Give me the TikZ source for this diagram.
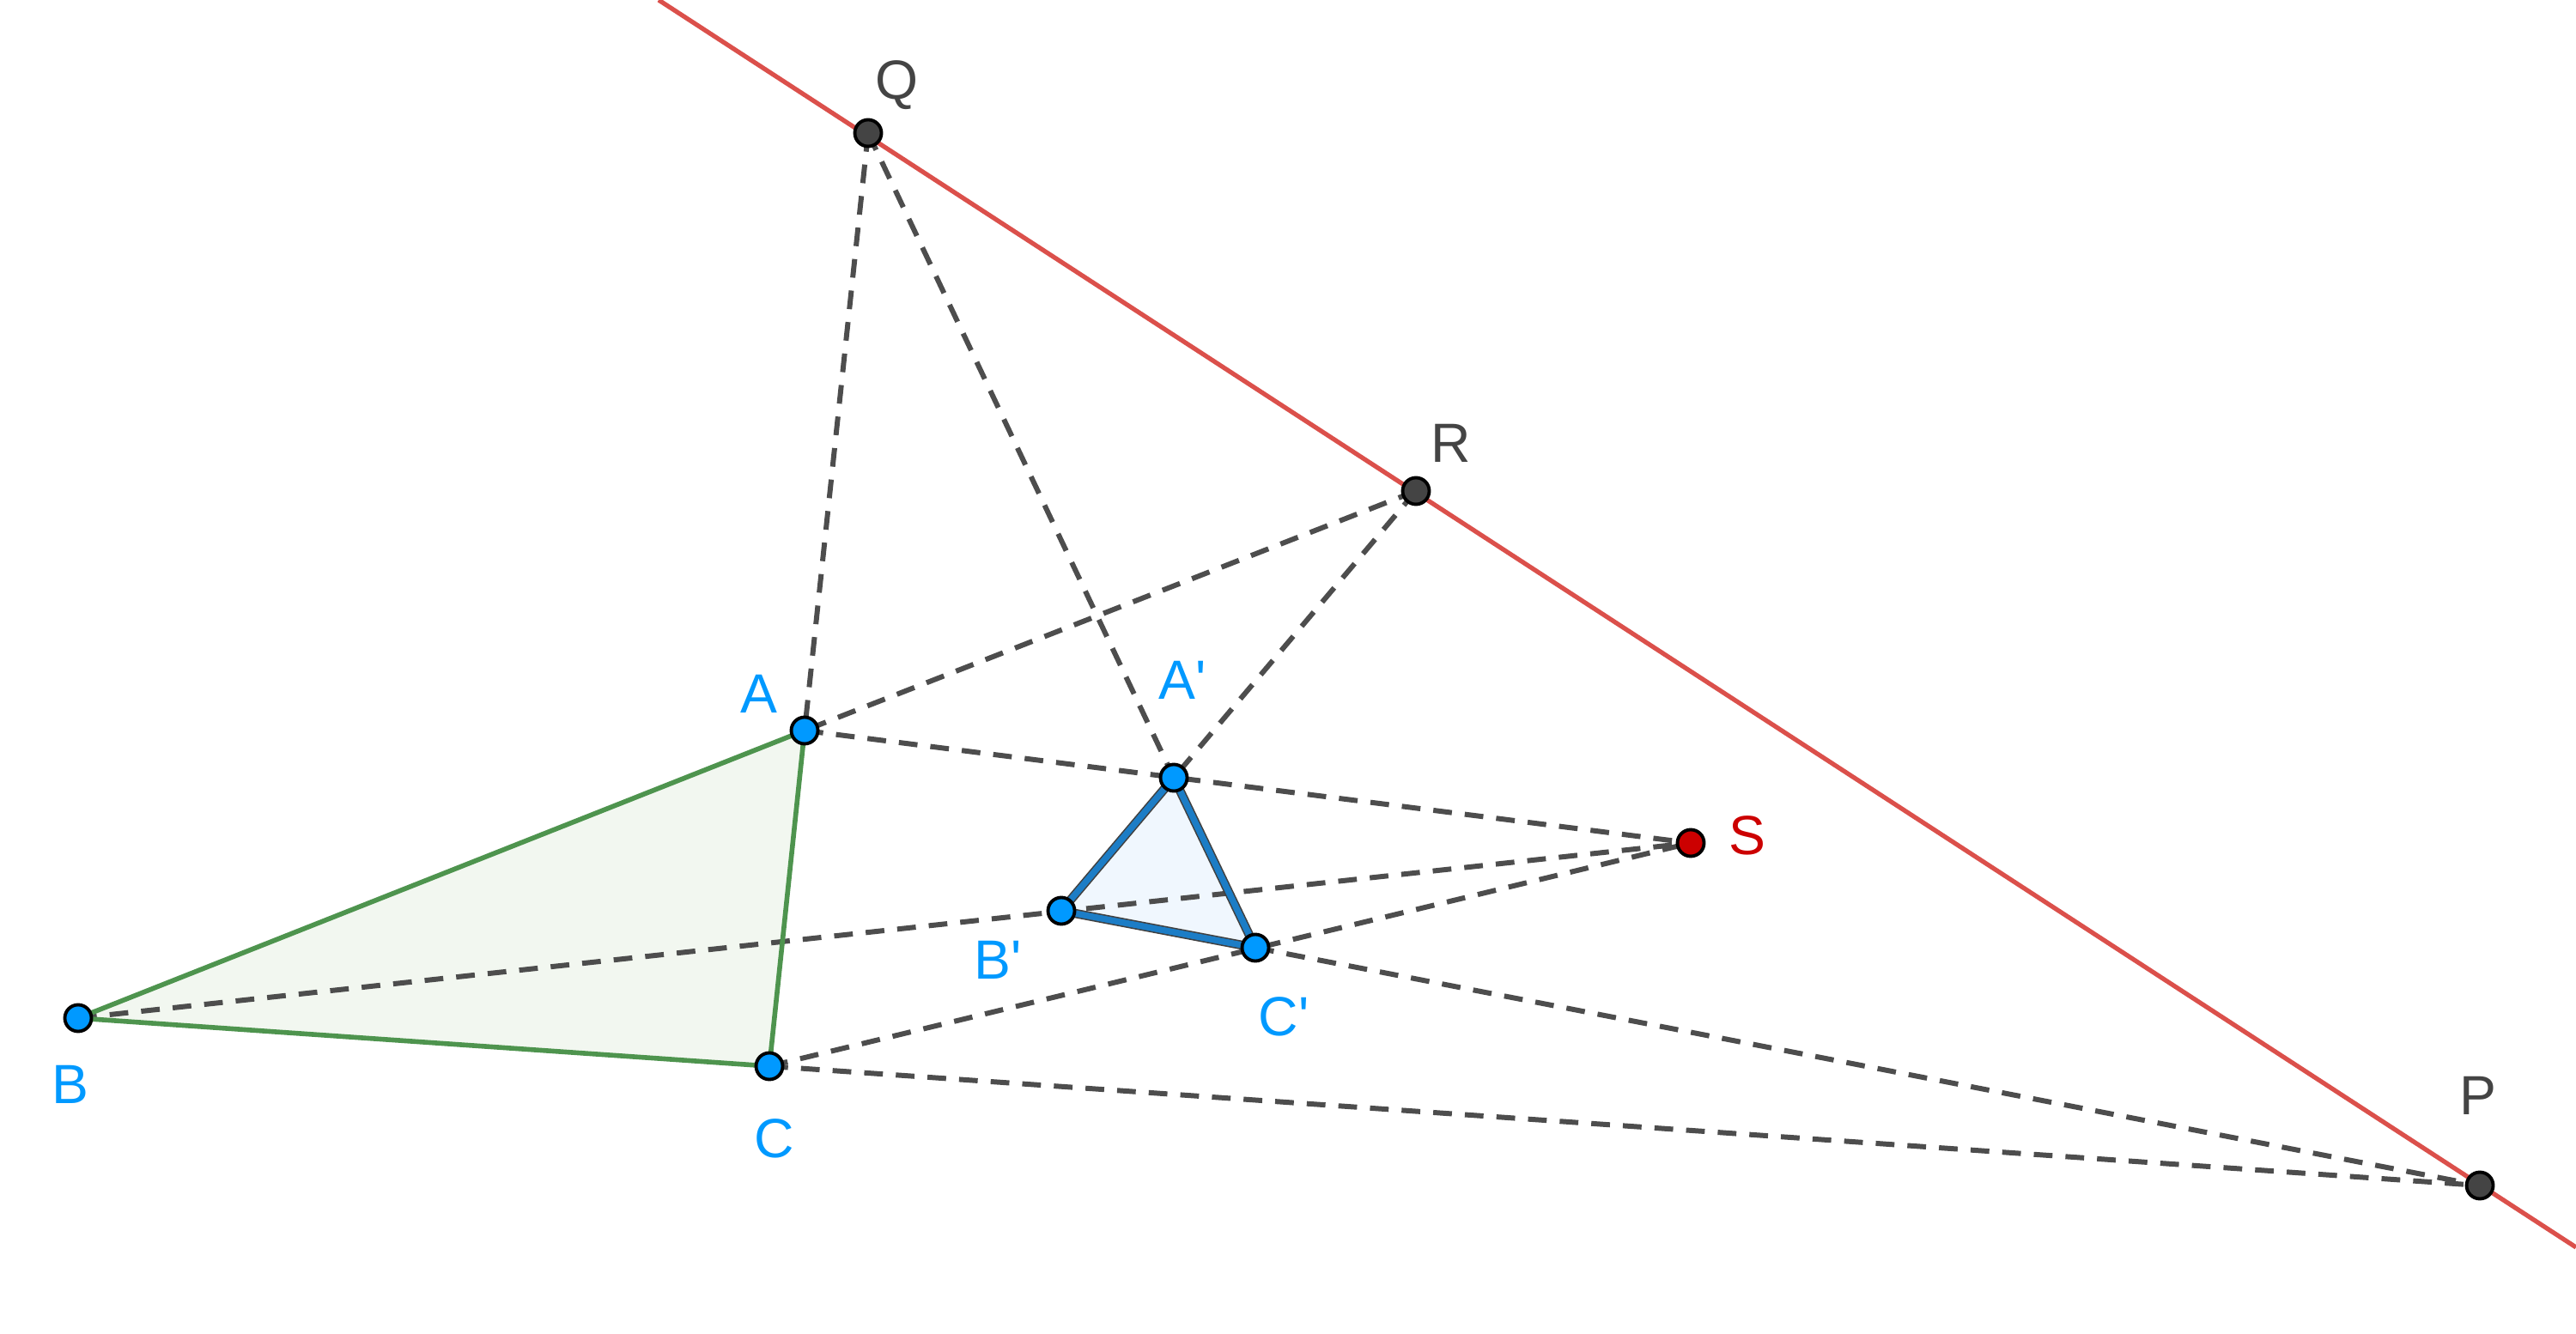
\documentclass[tikz,border=0pt]{standalone}
\usepackage{fontspec}
\setmainfont{Liberation Sans}
\definecolor{ptblue}{RGB}{0,153,255}
\definecolor{ptgray}{RGB}{68,68,68}
\definecolor{ptred}{RGB}{204,0,0}
\definecolor{axisred}{RGB}{219,80,75}
\definecolor{trigreen}{RGB}{78,148,78}
\definecolor{trigreenfill}{RGB}{242,247,240}
\definecolor{triblue}{RGB}{28,125,198}
\definecolor{tribluefill}{RGB}{240,247,254}
\definecolor{dgray}{RGB}{77,77,77}

\begin{document}
\begin{tikzpicture}[
  dline/.style={dash pattern=on 6.2pt off 4.3pt, line width=1.7pt, dgray},
  pt/.style={circle, draw=black, line width=1.1pt, minimum size=0.31cm, inner sep=0pt},
  bpt/.style={pt, fill=ptblue},
  gpt/.style={pt, fill=ptgray},
  spt/.style={pt, fill=ptred},
  lbl/.style={anchor=base, inner sep=0pt, font=\fontsize{18.3}{22}\selectfont}
]
\useasboundingbox (0,0) rectangle (30,15.53);
% points
\coordinate (Q) at (10.11,13.98);
\coordinate (R) at (16.49,9.81);
\coordinate (P) at (28.88,1.72);
\coordinate (S) at (19.69,5.71);
\coordinate (A) at (9.37,7.02);
\coordinate (B) at (0.91,3.67);
\coordinate (C) at (8.96,3.11);
\coordinate (A1) at (13.67,6.47);
\coordinate (B1) at (12.36,4.92);
\coordinate (C1) at (14.62,4.49);
\coordinate (r1) at (7.67,15.53);
\coordinate (r2) at (30,1.00);
% triangles
\fill[trigreenfill] (A) -- (B) -- (C) -- cycle;
\fill[tribluefill] (A1) -- (B1) -- (C1) -- cycle;
% axis
\draw[axisred, line width=1.5pt] (r1) -- (r2);
% dashed lines
\draw[dline] (Q) -- (A);
\draw[dline] (Q) -- (A1);
\draw[dline] (R) -- (A);
\draw[dline] (R) -- (A1);
\draw[dline] (A) -- (S);
\draw[dline] (B) -- (S);
\draw[dline] (C) -- (S);
\draw[dline] (C1) -- (P);
\draw[dline] (C) -- (P);
% triangle edges
\draw[trigreen, line width=1.6pt, line join=round] (A) -- (B) -- (C) -- cycle;
\draw[black!75, line width=3.0pt, line join=round] (A1) -- (B1) -- (C1) -- cycle;
\draw[triblue, line width=2.1pt, line join=round] (A1) -- (B1) -- (C1) -- cycle;
% dots
\foreach \p in {A,B,C,A1,B1,C1} \node[bpt] (d\p) at (\p) {};
\foreach \p in {Q,R,P} \node[gpt] (d\p) at (\p) {};
\node[spt] (dS) at (S) {};
% labels
\node[lbl, ptgray] (lQ) at (10.44,14.37) {Q};
\node[lbl, ptgray] (lR) at (16.90,10.14) {R};
\node[lbl, ptgray] (lP) at (28.86,2.55) {P};
\node[lbl, ptred] (lS) at (20.35,5.57) {S};
\node[lbl, ptblue] (lA) at (8.84,7.22) {A};
\node[lbl, ptblue] (lB) at (0.82,2.68) {B};
\node[lbl, ptblue] (lC) at (9.02,2.05) {C};
\node[lbl, ptblue] (lA1) at (13.77,7.38) {A\textquotesingle};
\node[lbl, ptblue] (lB1) at (11.62,4.12) {B\textquotesingle};
\node[lbl, ptblue] (lC1) at (14.95,3.46) {C\textquotesingle};
\end{tikzpicture}
\end{document}
